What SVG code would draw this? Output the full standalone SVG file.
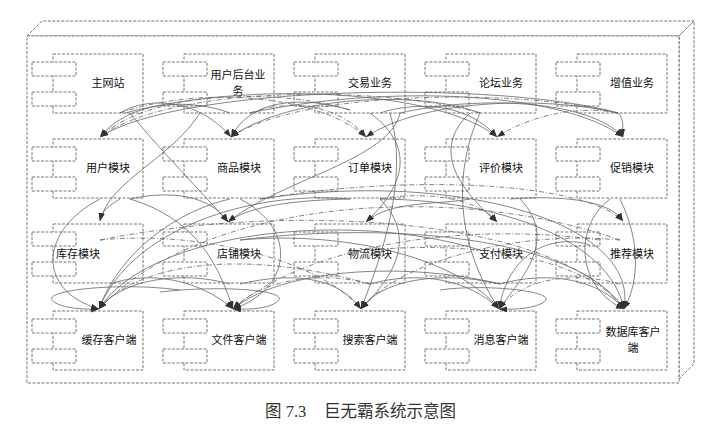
<svg xmlns="http://www.w3.org/2000/svg" width="727" height="432" viewBox="0 0 727 432">
<defs>
<style>
.frame{fill:#fff;stroke:#666;stroke-width:0.9;stroke-dasharray:3 1.5}
.body{fill:#fff;stroke:#666;stroke-width:0.9;stroke-dasharray:3 1.5}
.port{fill:#fff;stroke:#666;stroke-width:0.9;stroke-dasharray:3 1.5}
.lbl{font-family:"Noto Sans CJK SC","Noto Sans",sans-serif;font-size:11px;fill:#111;text-anchor:middle}
.c{fill:none;stroke:#666;stroke-width:0.8;marker-end:url(#ah)}
.d{fill:none;stroke:#666;stroke-width:0.8;stroke-dasharray:5 2 1 2;marker-end:url(#ah)}
.cap{font-family:"Liberation Serif","Noto Sans CJK SC",serif;font-size:16.5px;fill:#333}
</style>
<marker id="ah" markerWidth="8" markerHeight="6" refX="8" refY="3" orient="auto" markerUnits="userSpaceOnUse">
<path d="M0,0 L8,3 L0,6 z" fill="#333"/>
</marker>
<g id="comp">
<rect class="body" x="0" y="0" width="90" height="59"/>
<rect class="port" x="-21" y="8" width="44" height="14"/>
<rect class="port" x="-21" y="38" width="44" height="14"/>
</g>
</defs>
<rect width="727" height="432" fill="#fff"/>
<g id="system-box">
<polygon class="frame" points="27,36 42,21 694,21 679,36"/>
<polygon class="frame" points="679,36 694,21 694,364 679,379"/>
<rect class="frame" x="27" y="36" width="652" height="347"/>
</g>
<g id="n-zhuwangzhan"><use href="#comp" x="53" y="54"/><text class="lbl" x="108" y="87">主网站</text></g>
<g id="n-yonghuhoutai"><use href="#comp" x="184" y="54"/><text class="lbl" x="238" y="79">用户后台业</text><text class="lbl" x="238" y="95">务</text></g>
<g id="n-jiaoyi"><use href="#comp" x="315" y="54"/><text class="lbl" x="370" y="87">交易业务</text></g>
<g id="n-luntan"><use href="#comp" x="446" y="54"/><text class="lbl" x="501" y="87">论坛业务</text></g>
<g id="n-zengzhi"><use href="#comp" x="577" y="54"/><text class="lbl" x="632" y="87">增值业务</text></g>
<g id="n-yonghu"><use href="#comp" x="53" y="139"/><text class="lbl" x="108" y="172">用户模块</text></g>
<g id="n-shangpin"><use href="#comp" x="184" y="139"/><text class="lbl" x="239" y="172">商品模块</text></g>
<g id="n-dingdan"><use href="#comp" x="315" y="139"/><text class="lbl" x="370" y="172">订单模块</text></g>
<g id="n-pingjia"><use href="#comp" x="446" y="139"/><text class="lbl" x="501" y="172">评价模块</text></g>
<g id="n-cuxiao"><use href="#comp" x="577" y="139"/><text class="lbl" x="632" y="172">促销模块</text></g>
<g id="n-kucun"><use href="#comp" x="53" y="224"/><text class="lbl" x="78" y="258">库存模块</text></g>
<g id="n-dianpu"><use href="#comp" x="184" y="224"/><text class="lbl" x="239" y="258">店铺模块</text></g>
<g id="n-wuliu"><use href="#comp" x="315" y="224"/><text class="lbl" x="370" y="258">物流模块</text></g>
<g id="n-zhifu"><use href="#comp" x="446" y="224"/><text class="lbl" x="501" y="258">支付模块</text></g>
<g id="n-tuijian"><use href="#comp" x="577" y="224"/><text class="lbl" x="632" y="258">推荐模块</text></g>
<g id="n-huancun"><use href="#comp" x="53" y="311"/><text class="lbl" x="109" y="344">缓存客户端</text></g>
<g id="n-wenjian"><use href="#comp" x="184" y="311"/><text class="lbl" x="239" y="344">文件客户端</text></g>
<g id="n-sousuo"><use href="#comp" x="315" y="311"/><text class="lbl" x="370" y="344">搜索客户端</text></g>
<g id="n-xiaoxi"><use href="#comp" x="446" y="311"/><text class="lbl" x="501" y="344">消息客户端</text></g>
<g id="n-shujuku"><use href="#comp" x="577" y="311"/><text class="lbl" x="633" y="336">数据库客户</text><text class="lbl" x="633" y="352">端</text></g>
<g id="connectors">
<path class="c" d="M120 113 C150 95,200 100,231 137"/>
<path class="d" d="M120 113 C200 85,320 95,366 137"/>
<path class="c" d="M125 113 C250 80,440 90,497 137"/>
<path class="c" d="M230 113 C190 98,130 100,100 137"/>
<path class="d" d="M250 113 C290 98,340 105,366 137"/>
<path class="c" d="M250 113 C380 85,560 90,623 137"/>
<path class="d" d="M350 110 C280 88,150 90,100 137"/>
<path class="c" d="M350 110 C300 95,250 100,231 137"/>
<path class="c" d="M380 113 C420 100,470 105,497 137"/>
<path class="d" d="M480 113 C380 85,170 85,100 137"/>
<path class="c" d="M480 113 C420 90,290 95,231 137"/>
<path class="c" d="M618 113 C500 80,180 85,100 137"/>
<path class="d" d="M618 113 C520 88,300 90,231 137"/>
<path class="c" d="M618 113 C540 95,420 100,366 137"/>
<path class="d" d="M618 113 C580 105,530 115,497 137"/>
<path class="c" d="M618 113 C625 120,622 128,623 137"/>
<path class="c" d="M400 113 C480 95,590 100,623 137"/>
<path class="c" d="M130 113 C160 150,200 190,228 222"/>
<path class="c" d="M200 113 C170 160,110 180,100 221"/>
<path class="c" d="M370 113 C420 150,400 190,366 222"/>
<path class="c" d="M470 113 C430 150,460 190,497 222"/>
<path class="c" d="M400 113 C390 160,280 180,228 222"/>
<path class="c" d="M120 199 C110 205,102 210,100 221"/>
<path class="c" d="M470 199 C440 205,390 200,366 222"/>
<path class="d" d="M380 199 C430 190,480 200,497 222"/>
<path class="c" d="M510 199 C560 195,610 200,623 221"/>
<path class="c" d="M130 199 C170 190,210 195,228 222"/>
<path class="d" d="M260 199 C400 175,580 180,623 221"/>
<path class="c" d="M350 199 C300 200,250 205,228 222"/>
<path class="c" d="M230 284 C180 270,120 280,99 309"/>
<path class="d" d="M370 284 C250 250,140 260,99 309"/>
<path class="c" d="M480 250 C350 210,150 230,99 309"/>
<path class="d" d="M620 240 C450 180,200 200,99 309"/>
<path class="c" d="M350 199 C250 190,130 230,99 309"/>
<path class="c" d="M230 199 C180 210,120 250,99 309"/>
<path class="c" d="M100 199 C40 230,35 290,99 309"/>
<path class="c" d="M180 290 C120 282,45 290,52 300 C58 308,85 310,99 309"/>
<path class="c" d="M110 284 C150 270,200 280,233 309"/>
<path class="d" d="M370 284 C320 270,260 280,233 309"/>
<path class="c" d="M500 284 C400 260,280 270,233 309"/>
<path class="c" d="M130 199 C200 220,220 270,233 309"/>
<path class="c" d="M240 199 C300 230,290 290,233 309"/>
<path class="d" d="M600 240 C450 220,300 250,233 309"/>
<path class="c" d="M160 292 C220 285,285 290,279 300 C273 308,250 310,233 309"/>
<path class="c" d="M240 284 C300 270,340 280,361 309"/>
<path class="c" d="M380 199 C420 240,390 280,361 309"/>
<path class="d" d="M100 240 C200 230,320 260,361 309"/>
<path class="c" d="M500 284 C440 270,380 280,361 309"/>
<path class="d" d="M620 240 C520 230,400 260,361 309"/>
<path class="c" d="M390 113 C410 180,380 260,361 309"/>
<path class="c" d="M370 284 C420 270,470 280,499 309"/>
<path class="d" d="M620 284 C570 270,520 280,499 309"/>
<path class="c" d="M240 240 C350 230,460 260,499 309"/>
<path class="c" d="M520 199 C560 240,520 280,499 309"/>
<path class="c" d="M480 113 C450 180,460 250,499 309"/>
<path class="c" d="M590 245 C560 235,510 245,499 309"/>
<path class="c" d="M440 290 C480 284,550 290,546 300 C540 308,515 310,499 309"/>
<path class="d" d="M100 240 C300 200,560 220,624 309"/>
<path class="c" d="M240 240 C400 220,580 240,624 309"/>
<path class="d" d="M370 250 C480 240,590 260,624 309"/>
<path class="c" d="M500 284 C550 270,600 280,624 309"/>
<path class="c" d="M380 199 C500 200,610 240,624 309"/>
<path class="c" d="M260 199 C450 170,640 220,624 309"/>
<path class="c" d="M620 199 C640 240,640 280,624 309"/>
<path class="c" d="M610 199 C570 230,580 290,624 309"/>
</g>
<text class="cap" y="417"><tspan x="265">图 7.3</tspan><tspan x="324">巨无霸系统示意图</tspan></text>
</svg>
